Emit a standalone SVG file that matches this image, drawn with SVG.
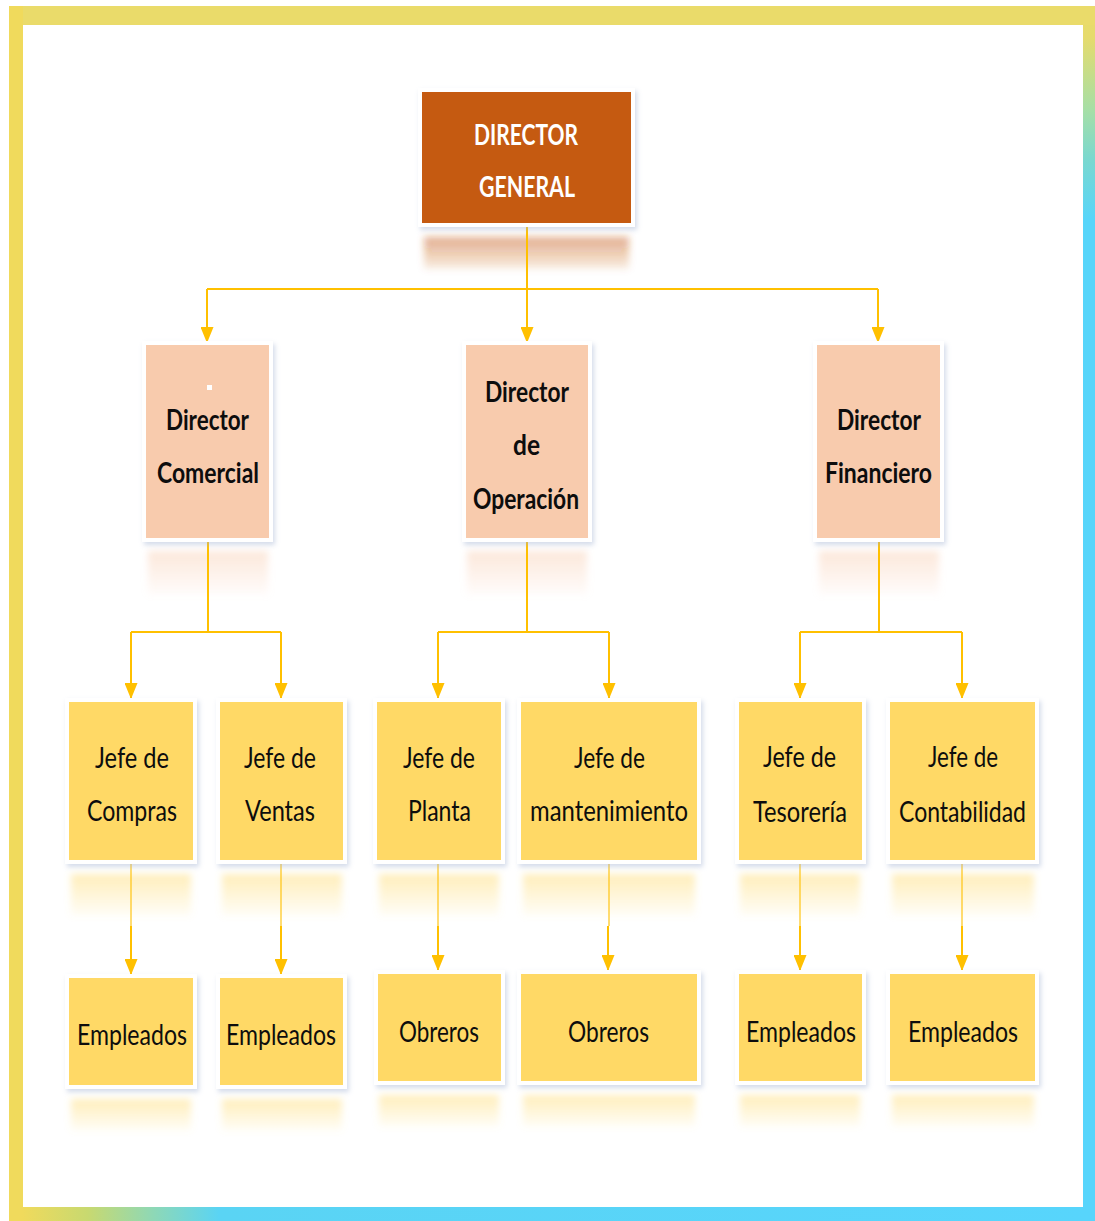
<svg xmlns="http://www.w3.org/2000/svg" width="1095" height="1221" viewBox="0 0 1095 1221">
  <defs>
    <style>
      .lbl { font-family: Lato, "Liberation Sans", "DejaVu Sans", sans-serif; font-size: 28px; text-anchor: middle; fill: #0d0d0d; }
      .b { font-weight: bold; }
      .w { fill: #ffffff; }
      .conn { stroke: #FFC000; stroke-width: 2; fill: none; }
      .frame-w { fill: #ffffff; filter: url(#shadow); }
      .dg { fill: #C55A11; }
      .dir { fill: #F8CBAD; }
      .jefe { fill: #FFD966; }
      .refl { filter: url(#soft); }
    </style>
    <linearGradient id="gRight" x1="0" y1="0" x2="0" y2="1221" gradientUnits="userSpaceOnUse">
      <stop offset="0" stop-color="#EADB6A"/>
      <stop offset="0.03" stop-color="#E6DB6C"/>
      <stop offset="0.09" stop-color="#A6DFA6"/>
      <stop offset="0.13" stop-color="#7AD8CF"/>
      <stop offset="0.18" stop-color="#57D5FA"/>
      <stop offset="1" stop-color="#57D5FC"/>
    </linearGradient>
    <linearGradient id="gBottom" x1="0" y1="0" x2="1095" y2="0" gradientUnits="userSpaceOnUse">
      <stop offset="0.02" stop-color="#F0DA5C"/>
      <stop offset="0.08" stop-color="#C8D970"/>
      <stop offset="0.14" stop-color="#8ED8B6"/>
      <stop offset="0.2" stop-color="#5AD4F4"/>
      <stop offset="1" stop-color="#57D5FC"/>
    </linearGradient>
    <linearGradient id="fadeDG" x1="0" y1="0" x2="0" y2="1">
      <stop offset="0" stop-color="#C55A11" stop-opacity="0.5"/>
      <stop offset="1" stop-color="#C55A11" stop-opacity="0.1"/>
    </linearGradient>
    <linearGradient id="fadeDir" x1="0" y1="0" x2="0" y2="1">
      <stop offset="0" stop-color="#F8CBAD" stop-opacity="0.45"/>
      <stop offset="1" stop-color="#F8CBAD" stop-opacity="0.05"/>
    </linearGradient>
    <linearGradient id="fadeJefe" x1="0" y1="0" x2="0" y2="1">
      <stop offset="0" stop-color="#FFD966" stop-opacity="0.45"/>
      <stop offset="1" stop-color="#FFD966" stop-opacity="0.05"/>
    </linearGradient>
    <filter id="soft" x="-20%" y="-50%" width="140%" height="200%">
      <feGaussianBlur stdDeviation="3.5"/>
    </filter>
    <filter id="shadow" x="-20%" y="-20%" width="140%" height="140%">
      <feDropShadow dx="2" dy="3" stdDeviation="2.5" flood-color="#9fb0d0" flood-opacity="0.45"/>
    </filter>
    <marker id="ah" markerUnits="userSpaceOnUse" markerWidth="16" markerHeight="13" refX="16" refY="6.5" orient="auto">
      <path d="M0,0 L16,6.5 L0,13 z" fill="#FFC000"/>
    </marker>
  </defs>

  <!-- page and frame -->
  <rect x="0" y="0" width="1095" height="1221" fill="#ffffff"/>
  <rect x="9" y="6" width="1086" height="19" fill="#EADB6A"/>
  <rect x="9" y="6" width="14" height="1215" fill="#F0DA5C"/>
  <rect x="1083" y="6" width="12" height="1215" fill="url(#gRight)"/>
  <rect x="9" y="1207" width="1086" height="14" fill="url(#gBottom)"/>
  <rect x="1083" y="6" width="12" height="19" fill="#EADB6A"/>

  <!-- reflections under the boxes -->
  <g id="reflections">
    <rect class="refl" x="424" y="237" width="205" height="32" fill="url(#fadeDG)"/>
    <rect class="refl" x="148" y="551" width="120" height="44" fill="url(#fadeDir)"/>
    <rect class="refl" x="467" y="551" width="120" height="44" fill="url(#fadeDir)"/>
    <rect class="refl" x="819" y="551" width="120" height="44" fill="url(#fadeDir)"/>
    <rect class="refl" x="71" y="874" width="120" height="42" fill="url(#fadeJefe)"/>
    <rect class="refl" x="222" y="874" width="120" height="42" fill="url(#fadeJefe)"/>
    <rect class="refl" x="379" y="874" width="120" height="42" fill="url(#fadeJefe)"/>
    <rect class="refl" x="523" y="874" width="172" height="42" fill="url(#fadeJefe)"/>
    <rect class="refl" x="740" y="874" width="120" height="42" fill="url(#fadeJefe)"/>
    <rect class="refl" x="892" y="874" width="142" height="42" fill="url(#fadeJefe)"/>
    <rect class="refl" x="71" y="1099" width="120" height="32" fill="url(#fadeJefe)"/>
    <rect class="refl" x="222" y="1099" width="120" height="32" fill="url(#fadeJefe)"/>
    <rect class="refl" x="379" y="1095" width="120" height="32" fill="url(#fadeJefe)"/>
    <rect class="refl" x="523" y="1095" width="172" height="32" fill="url(#fadeJefe)"/>
    <rect class="refl" x="740" y="1095" width="120" height="32" fill="url(#fadeJefe)"/>
    <rect class="refl" x="892" y="1095" width="142" height="32" fill="url(#fadeJefe)"/>
  </g>

  <!-- connectors -->
  <g id="connectors">
    <path class="conn" d="M527,223 V289 M207,289 H878"/>
    <line class="conn" x1="207" y1="289" x2="207" y2="343" marker-end="url(#ah)"/>
    <line class="conn" x1="527" y1="289" x2="527" y2="343" marker-end="url(#ah)"/>
    <line class="conn" x1="878" y1="289" x2="878" y2="343" marker-end="url(#ah)"/>

    <path class="conn" d="M208,538 V632 M131,632 H281"/>
    <line class="conn" x1="131" y1="632" x2="131" y2="699" marker-end="url(#ah)"/>
    <line class="conn" x1="281" y1="632" x2="281" y2="699" marker-end="url(#ah)"/>

    <path class="conn" d="M527,538 V632 M438,632 H609"/>
    <line class="conn" x1="438" y1="632" x2="438" y2="699" marker-end="url(#ah)"/>
    <line class="conn" x1="609" y1="632" x2="609" y2="699" marker-end="url(#ah)"/>

    <path class="conn" d="M879,538 V632 M800,632 H962"/>
    <line class="conn" x1="800" y1="632" x2="800" y2="699" marker-end="url(#ah)"/>
    <line class="conn" x1="962" y1="632" x2="962" y2="699" marker-end="url(#ah)"/>

    <g opacity="0.55">
      <path class="conn" d="M131,862 V926 M281,862 V926 M438,862 V926 M609,862 V926 M800,862 V926 M962,862 V926"/>
    </g>
    <line class="conn" x1="131" y1="926" x2="131" y2="975" marker-end="url(#ah)"/>
    <line class="conn" x1="281" y1="926" x2="281" y2="975" marker-end="url(#ah)"/>
    <line class="conn" x1="438" y1="926" x2="438" y2="971" marker-end="url(#ah)"/>
    <line class="conn" x1="608" y1="926" x2="608" y2="971" marker-end="url(#ah)"/>
    <line class="conn" x1="800" y1="926" x2="800" y2="971" marker-end="url(#ah)"/>
    <line class="conn" x1="962" y1="926" x2="962" y2="971" marker-end="url(#ah)"/>
  </g>

  <!-- top level -->
  <g id="director-general">
    <rect class="frame-w" x="418" y="88" width="217" height="139"/>
    <rect class="dg" x="422" y="92" width="209" height="131"/>
    <text class="lbl b w" x="526" y="145" textLength="104" lengthAdjust="spacingAndGlyphs">DIRECTOR</text>
    <text class="lbl b w" x="527" y="197" textLength="96" lengthAdjust="spacingAndGlyphs">GENERAL</text>
  </g>

  <!-- second level -->
  <g id="director-comercial">
    <rect class="frame-w" x="142" y="341" width="131" height="201"/>
    <rect class="dir" x="146" y="345" width="123" height="193"/>
    <rect x="207" y="385" width="5" height="5" fill="#ffffff"/>
    <text class="lbl b" x="207.5" y="430" textLength="83" lengthAdjust="spacingAndGlyphs">Director</text>
    <text class="lbl b" x="208" y="483" textLength="102" lengthAdjust="spacingAndGlyphs">Comercial</text>
  </g>
  <g id="director-operacion">
    <rect class="frame-w" x="462" y="341" width="130" height="201"/>
    <rect class="dir" x="466" y="345" width="122" height="193"/>
    <text class="lbl b" x="527" y="402" textLength="84" lengthAdjust="spacingAndGlyphs">Director</text>
    <text class="lbl b" x="526.5" y="455" textLength="27" lengthAdjust="spacingAndGlyphs">de</text>
    <text class="lbl b" x="526" y="509" textLength="106" lengthAdjust="spacingAndGlyphs">Operación</text>
  </g>
  <g id="director-financiero">
    <rect class="frame-w" x="813" y="341" width="131" height="201"/>
    <rect class="dir" x="817" y="345" width="123" height="193"/>
    <text class="lbl b" x="879" y="430" textLength="84" lengthAdjust="spacingAndGlyphs">Director</text>
    <text class="lbl b" x="878.5" y="483" textLength="107" lengthAdjust="spacingAndGlyphs">Financiero</text>
  </g>

  <!-- third level -->
  <g id="jefe-compras">
    <rect class="frame-w" x="65" y="698" width="132" height="166"/>
    <rect class="jefe" x="69" y="702" width="124" height="158"/>
    <text class="lbl" x="132" y="768" textLength="74" lengthAdjust="spacingAndGlyphs">Jefe de</text>
    <text class="lbl" x="132" y="821" textLength="90" lengthAdjust="spacingAndGlyphs">Compras</text>
  </g>
  <g id="jefe-ventas">
    <rect class="frame-w" x="216" y="698" width="131" height="166"/>
    <rect class="jefe" x="220" y="702" width="123" height="158"/>
    <text class="lbl" x="280" y="768" textLength="72" lengthAdjust="spacingAndGlyphs">Jefe de</text>
    <text class="lbl" x="280" y="821" textLength="70" lengthAdjust="spacingAndGlyphs">Ventas</text>
  </g>
  <g id="jefe-planta">
    <rect class="frame-w" x="373" y="698" width="132" height="166"/>
    <rect class="jefe" x="377" y="702" width="124" height="158"/>
    <text class="lbl" x="439" y="768" textLength="72" lengthAdjust="spacingAndGlyphs">Jefe de</text>
    <text class="lbl" x="439.5" y="821" textLength="63" lengthAdjust="spacingAndGlyphs">Planta</text>
  </g>
  <g id="jefe-mantenimiento">
    <rect class="frame-w" x="517" y="698" width="184" height="166"/>
    <rect class="jefe" x="521" y="702" width="176" height="158"/>
    <text class="lbl" x="609.5" y="768" textLength="71" lengthAdjust="spacingAndGlyphs">Jefe de</text>
    <text class="lbl" x="609" y="821" textLength="158" lengthAdjust="spacingAndGlyphs">mantenimiento</text>
  </g>
  <g id="jefe-tesoreria">
    <rect class="frame-w" x="735" y="698" width="131" height="166"/>
    <rect class="jefe" x="739" y="702" width="123" height="158"/>
    <text class="lbl" x="799.5" y="767" textLength="73" lengthAdjust="spacingAndGlyphs">Jefe de</text>
    <text class="lbl" x="800" y="822" textLength="94" lengthAdjust="spacingAndGlyphs">Tesorería</text>
  </g>
  <g id="jefe-contabilidad">
    <rect class="frame-w" x="886" y="698" width="153" height="166"/>
    <rect class="jefe" x="890" y="702" width="145" height="158"/>
    <text class="lbl" x="963" y="767" textLength="70" lengthAdjust="spacingAndGlyphs">Jefe de</text>
    <text class="lbl" x="962.5" y="822" textLength="127" lengthAdjust="spacingAndGlyphs">Contabilidad</text>
  </g>

  <!-- fourth level -->
  <g id="empleados-compras">
    <rect class="frame-w" x="65" y="974" width="132" height="115"/>
    <rect class="jefe" x="69" y="978" width="124" height="107"/>
    <text class="lbl" x="132" y="1045" textLength="110" lengthAdjust="spacingAndGlyphs">Empleados</text>
  </g>
  <g id="empleados-ventas">
    <rect class="frame-w" x="216" y="974" width="131" height="115"/>
    <rect class="jefe" x="220" y="978" width="123" height="107"/>
    <text class="lbl" x="281" y="1045" textLength="110" lengthAdjust="spacingAndGlyphs">Empleados</text>
  </g>
  <g id="obreros-planta">
    <rect class="frame-w" x="374" y="970" width="131" height="115"/>
    <rect class="jefe" x="378" y="974" width="123" height="107"/>
    <text class="lbl" x="439" y="1042" textLength="80" lengthAdjust="spacingAndGlyphs">Obreros</text>
  </g>
  <g id="obreros-mantenimiento">
    <rect class="frame-w" x="517" y="970" width="184" height="115"/>
    <rect class="jefe" x="521" y="974" width="176" height="107"/>
    <text class="lbl" x="608.5" y="1042" textLength="81" lengthAdjust="spacingAndGlyphs">Obreros</text>
  </g>
  <g id="empleados-tesoreria">
    <rect class="frame-w" x="735" y="970" width="131" height="115"/>
    <rect class="jefe" x="739" y="974" width="123" height="107"/>
    <text class="lbl" x="801" y="1042" textLength="110" lengthAdjust="spacingAndGlyphs">Empleados</text>
  </g>
  <g id="empleados-contabilidad">
    <rect class="frame-w" x="886" y="970" width="153" height="115"/>
    <rect class="jefe" x="890" y="974" width="145" height="107"/>
    <text class="lbl" x="963" y="1042" textLength="110" lengthAdjust="spacingAndGlyphs">Empleados</text>
  </g>
</svg>
